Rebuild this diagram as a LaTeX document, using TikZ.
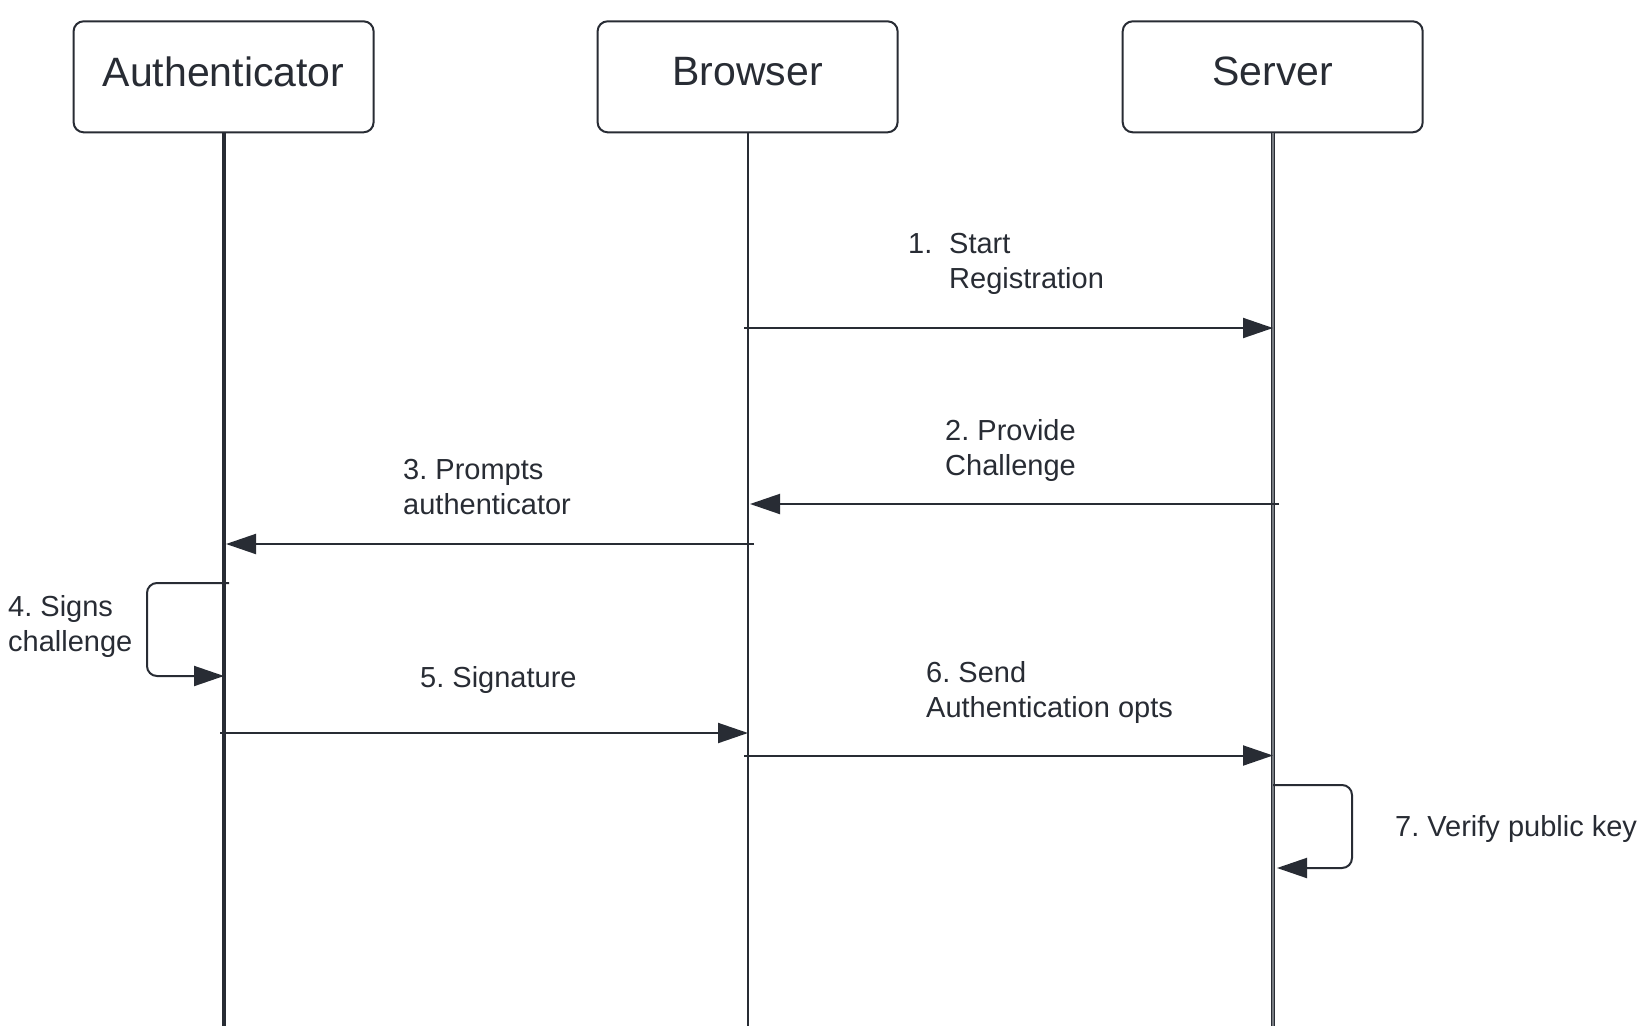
\documentclass[tikz,border=0pt]{standalone}
\usepackage{fontspec}
\setmainfont{Liberation Sans}
\frenchspacing
\usetikzlibrary{arrows.meta}
\definecolor{ink}{RGB}{40,44,52}
\definecolor{lifegray}{RGB}{120,124,130}
\tikzset{
  actor/.style={draw=ink, line width=2pt, rounded corners=10pt, minimum width=300pt, minimum height=111pt, inner sep=0pt},
  actortext/.style={text=ink, font=\fontsize{41}{49}\selectfont},
  msg/.style={draw=ink, line width=2pt, -{Triangle[length=30pt,width=20pt]}},
  lbl/.style={text=ink, font=\fontsize{29}{35}\selectfont, align=left, anchor=west, inner sep=0pt},
}
\begin{document}
\begin{tikzpicture}[x=1pt,y=-1pt]
\useasboundingbox (0,0) rectangle (1650,1026);
\fill[white] (0,0) rectangle (1650,1026);

% actor boxes
\node[actor] (auth) at (223.6,76.8) {};
\node[actor] (brow) at (747.6,76.8) {};
\node[actor] (serv) at (1272.7,76.8) {};
\node[actortext] (authT) at (223.6,71.5) {Authenticator};
\node[actortext] (browT) at (747.6,71.5) {Browser};
\node[actortext] (servT) at (1272.7,71.5) {Server};

% lifeline ends
\coordinate (authB) at (224,1026);
\coordinate (browB) at (748,1026);
\coordinate (servB) at (1273,1026);
\draw[ink, line width=3.5pt] (auth.south -| authB) -- (authB);
\draw[ink, line width=2pt] (brow.south -| browB) -- (browB);
\draw[ink, line width=4.5pt] (serv.south -| servB) -- (servB);
\draw[lifegray, line width=1.8pt] (serv.south -| servB) -- (servB);

% message endpoints
\coordinate (m1s) at (744,328);   \coordinate (m1e) at (1273,328);
\coordinate (m2s) at (1279,504);  \coordinate (m2e) at (750,504);
\coordinate (m3s) at (754,544);   \coordinate (m3e) at (226,544);
\coordinate (m4s) at (229,583);   \coordinate (m4e) at (224,676);
\coordinate (m5s) at (220,733);   \coordinate (m5e) at (748,733);
\coordinate (m6s) at (744,755.5); \coordinate (m6e) at (1273,755.5);
\coordinate (m7s) at (1273,785);  \coordinate (m7e) at (1277,868);

\draw[msg] (m1s) -- (m1e);
\draw[msg] (m2s) -- (m2e);
\draw[msg] (m3s) -- (m3e);
\draw[msg, rounded corners=10pt] (m4s) -- (147,583) -- (147,676) -- (m4e);
\draw[msg] (m5s) -- (m5e);
\draw[msg] (m6s) -- (m6e);
\draw[msg, rounded corners=10pt] (m7s) -- (1352,785) -- (1352,868) -- (m7e);

% labels
\node[lbl] (l1a) at (908,244) {1.};
\node[lbl] (l1) at (949,263.5) {Start\\Registration};
\node[lbl] (l2) at (945,450.5) {2. Provide\\Challenge};
\node[lbl] (l3) at (403,487.5) {3. Prompts\\authenticator};
\node[lbl] (l4) at (8,626.5) {4. Signs\\challenge};
\node[lbl] (l5) at (420,679.5) {5. Signature};
\node[lbl] (l6) at (926,692.5) {6. Send\\Authentication opts};
\node[lbl] (l7) at (1395,829) {7. Verify public key};
\end{tikzpicture}
\end{document}
